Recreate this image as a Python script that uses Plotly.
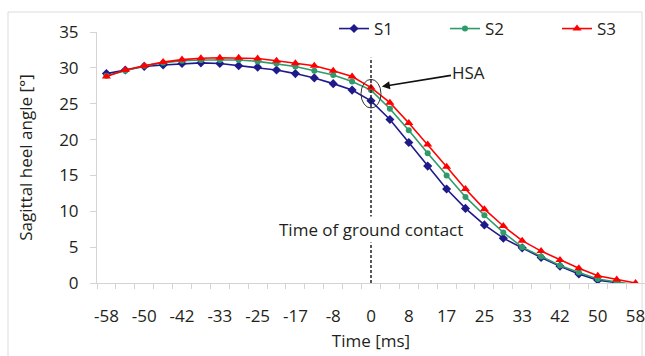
import plotly.graph_objects as go

# Time [ms] of each sample (240 Hz)
time_ms = [-58.33, -54.17, -50.0, -45.83, -41.67, -37.5, -33.33, -29.17, -25.0, -20.83,
           -16.67, -12.5, -8.33, -4.17, 0.0, 4.17, 8.33, 12.5, 16.67, 20.83,
           25.0, 29.17, 33.33, 37.5, 41.67, 45.83, 50.0, 54.17, 58.33]

s1 = [29.2, 29.7, 30.2, 30.4, 30.6, 30.7, 30.6, 30.3, 30.1, 29.7,
      29.2, 28.6, 27.8, 26.9, 25.4, 22.8, 19.6, 16.3, 13.1, 10.4,
      8.1, 6.25, 4.9, 3.55, 2.35, 1.25, 0.4, 0.1, -0.3]
s2 = [28.9, 29.6, 30.3, 30.7, 31.0, 31.1, 31.1, 31.1, 30.9, 30.6,
      30.2, 29.6, 29.0, 28.1, 26.9, 24.3, 21.3, 18.1, 15.0, 12.0,
      9.45, 7.05, 5.0, 3.7, 2.45, 1.45, 0.55, 0.15, -0.25]
s3 = [28.8, 29.7, 30.3, 30.8, 31.15, 31.35, 31.4, 31.4, 31.3, 31.0,
      30.65, 30.3, 29.6, 28.8, 27.25, 25.15, 22.3, 19.3, 16.2, 13.1,
      10.3, 7.95, 5.9, 4.45, 3.2, 2.05, 1.0, 0.5, 0.0]

tick_labels = ["-58", "-50", "-42", "-33", "-25", "-17", "-8", "0",
               "8", "17", "25", "33", "42", "50", "58"]
y_ticks = [0, 5, 10, 15, 20, 25, 30, 35]

FONT = "Open Sans"
FS = 17
TXT = "#231f20"
AX = "#d4d4d4"

# plot area at page x 97..645, y 32..283 (body margin removed below)
W, H = 645, 356
L, T, PW, PH = 97, 32, 548, 251
PX0, PY0 = L, T + PH

fig = go.Figure()
series = [
    ("S1", s1, "#1f1a8a", "diamond", 7, "legend", 334),
    ("S2", s2, "#2f9a6a", "circle", 6, "legend2", 445),
    ("S3", s3, "#ff0000", "triangle-up", 8, "legend3", 557),
]
leg_cfg = {}
for name, ys, col, sym, size, leg, lx in series:
    fig.add_trace(go.Scatter(
        x=time_ms, y=ys, name=name, mode="lines+markers", legend=leg,
        line=dict(color=col, width=1.6),
        marker=dict(symbol=sym, size=size, color=col, line=dict(width=0)),
    ))
    leg_cfg[leg] = dict(x=(lx - PX0) / PW, xanchor="left",
                        y=(PY0 - 11) / PH, yanchor="top",
                        font=dict(family=FONT, size=FS, color=TXT),
                        itemwidth=30, bgcolor="rgba(0,0,0,0)")

step = time_ms[1] - time_ms[0]
half = step / 2
bounds = [t - half for t in time_ms] + [time_ms[-1] + half]

fig.update_xaxes(
    range=[time_ms[0] - half, time_ms[-1] + half], automargin=False,
    tickvals=time_ms[::2], ticktext=tick_labels, ticklabeloverflow="allow",
    ticks="", showgrid=False, zeroline=False,
    showline=True, linecolor=AX, linewidth=1,
    tickfont=dict(family=FONT, size=FS, color=TXT),
    ticklabelstandoff=18,
    minor=dict(tickvals=bounds, ticks="outside", ticklen=5, tickcolor=AX, tickwidth=1, showgrid=False),
    title=dict(text="Time [ms]", font=dict(family=FONT, size=FS, color=TXT), standoff=8),
)
fig.update_yaxes(
    range=[0, 35], tickvals=y_ticks, automargin=False,
    ticks="outside", ticklen=6, tickcolor=AX, tickwidth=1,
    showgrid=False, zeroline=False,
    showline=True, linecolor=AX, linewidth=1,
    tickfont=dict(family=FONT, size=FS, color=TXT),
    ticklabelstandoff=8,
    title=dict(text="Sagittal heel angle [°]", font=dict(family=FONT, size=FS, color=TXT), standoff=22),
)

# time of ground contact line
fig.add_shape(type="line", xref="x", yref="y", x0=0, x1=0, y0=0, y1=31.4,
              line=dict(color="#222", width=1.5, dash="3px,2px"), layer="above")
# HSA ellipse
fig.add_shape(type="circle", xref="x", yref="y", x0=-2.2, x1=2.2, y0=24.4, y1=28.4,
              line=dict(color="#333", width=1))
fig.add_annotation(x=0, y=7.4, xref="x", yref="y", text="Time of ground contact",
                   showarrow=False, bgcolor="white",
                   font=dict(family=FONT, size=FS, color=TXT))
fig.add_annotation(x=2.4, y=27.4, xref="x", yref="y", ax=21.6, ay=29.35,
                   axref="x", ayref="y", text="HSA", showarrow=True,
                   arrowhead=2, arrowsize=1, arrowwidth=1.6, arrowcolor="#111",
                   font=dict(family=FONT, size=FS, color=TXT))

# chart-area frame
fig.add_shape(type="rect", xref="paper", yref="paper",
              x0=(8 - L) / PW, x1=(642 - L) / PW,
              y0=-(360 - PY0) / PH, y1=(PY0 - 12) / PH,
              line=dict(color="#dcdcdc", width=1), layer="below")

fig.update_layout(
    width=W, height=H,
    margin=dict(l=L, r=W - L - PW, t=T, b=H - T - PH),
    paper_bgcolor="white", plot_bgcolor="white",
    showlegend=True,
    font=dict(family=FONT, color=TXT),
    **leg_cfg,
)

fig.write_html("out.html", config={"displayModeBar": False},
               post_script="document.body.style.margin='0';document.body.style.overflow='hidden';")
